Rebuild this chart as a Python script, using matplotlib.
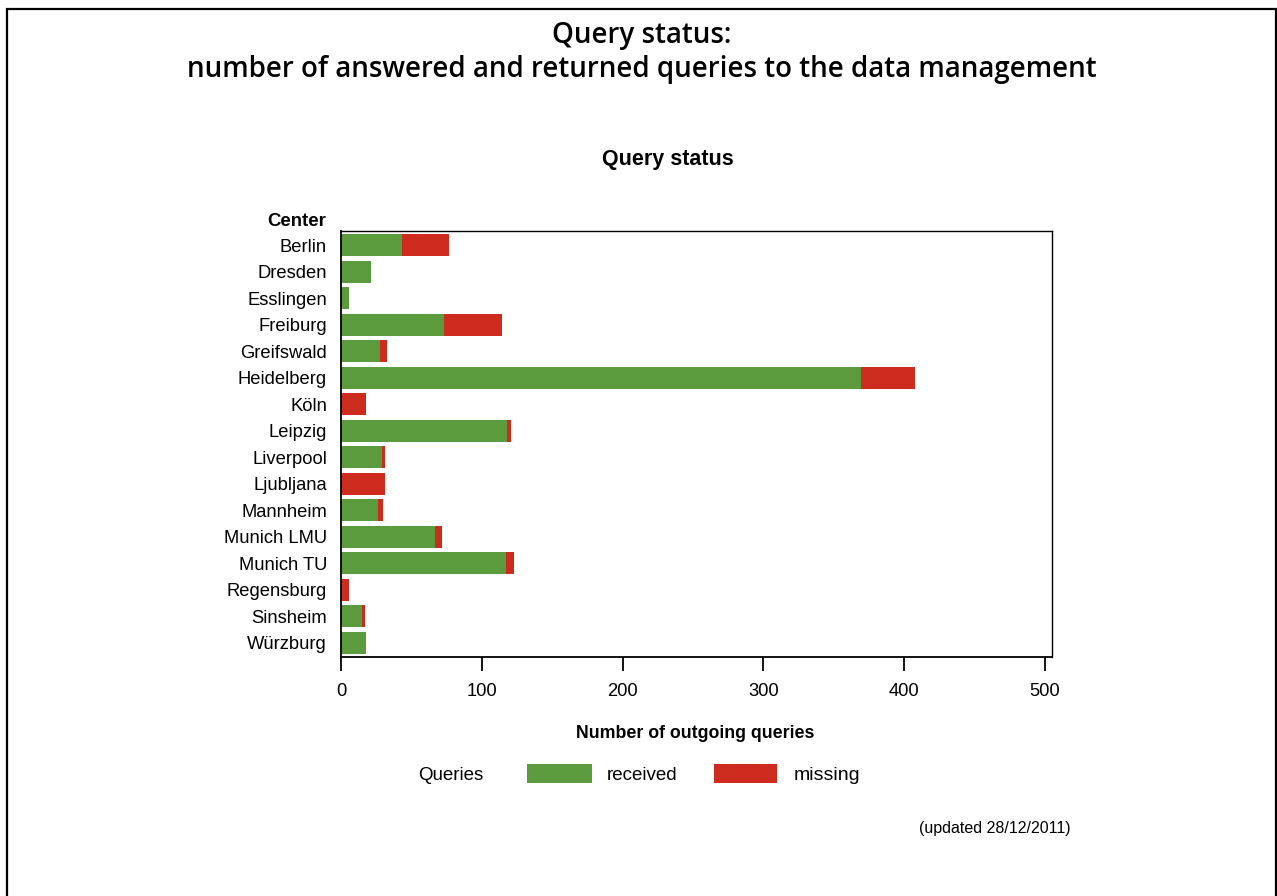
import matplotlib
matplotlib.use("Agg")
import matplotlib.pyplot as plt
from matplotlib.patches import Rectangle
import numpy as np

centers = ["Berlin", "Dresden", "Esslingen", "Freiburg", "Greifswald", "Heidelberg",
           "Köln", "Leipzig", "Liverpool", "Ljubljana", "Mannheim", "Munich LMU",
           "Munich TU", "Regensburg", "Sinsheim", "Würzburg"]
received = [43, 21, 6, 73, 28, 369, 0, 118, 29, 0, 26, 67, 117, 0, 15, 18]
missing = [34, 0, 0, 41, 5, 39, 18, 3, 2, 31, 4, 5, 6, 6, 2, 0]
xticks = [0, 100, 200, 300, 400, 500]

GREEN = "#5b9b3d"
RED = "#cd2b1e"

plt.rcParams['font.family'] = ['Liberation Sans', 'DejaVu Sans']

fig = plt.figure(figsize=(12.77, 8.96), dpi=100)
fig.patch.set_facecolor("white")

# outer frame
fig.patches.append(Rectangle((7/1277, -0.05), (1275.5-7)/1277, 1.05 - 9/896,
                             transform=fig.transFigure, fill=False,
                             edgecolor="black", lw=1.6))

ax = fig.add_axes([341/1277, 1-657/896, (1052-341)/1277, (657-231)/896])
y = np.arange(len(centers))
ax.barh(y, received, height=0.83, color=GREEN, edgecolor="none")
ax.barh(y, missing, left=received, height=0.83, color=RED, edgecolor="none")
ax.set_ylim(len(centers) - 0.47, -0.53)
ax.set_xlim(0, 505)
ax.set_yticks(y)
ax.set_yticklabels(centers, fontsize=13.2)
ax.tick_params(axis='y', length=0, pad=10)
ax.set_xticks(xticks)
ax.set_xticklabels([str(t) for t in xticks], fontsize=13.2)
ax.tick_params(axis='x', length=10, width=1.3, pad=9)
for s in ax.spines.values():
    s.set_linewidth(1.0)
ax.spines['bottom'].set_linewidth(1.3)
ax.spines['left'].set_linewidth(1.3)

fig.text(326/1277, 1-221/896, "Center", ha='right', va='center', fontsize=13.4, fontweight='bold')

tfam = ['Open Sans', 'Liberation Sans', 'DejaVu Sans']
fig.text(642/1277, 1-35/896, "Query status:", ha='center', va='center', fontsize=20,
         family=tfam, fontweight='semibold')
fig.text(642/1277, 1-70/896, "number of answered and returned queries to the data management",
         ha='center', va='center', fontsize=20, family=tfam, fontweight='semibold')

fig.text(668/1277, 1-160/896, "Query status", ha='center', va='center', fontsize=15.5, fontweight='bold')
fig.text(695/1277, 1-733/896, "Number of outgoing queries", ha='center', va='center', fontsize=12.8, fontweight='bold')

# legend row
ly = 1 - 775/896
fig.text(451/1277, ly, "Queries", ha='center', va='center', fontsize=13.5)
fig.patches.append(Rectangle((527/1277, 1-783/896), 65/1277, 19/896, transform=fig.transFigure,
                             facecolor=GREEN, edgecolor='none'))
fig.text(607/1277, ly, "received", ha='left', va='center', fontsize=13.5)
fig.patches.append(Rectangle((714/1277, 1-783/896), 63/1277, 19/896, transform=fig.transFigure,
                             facecolor=RED, edgecolor='none'))
fig.text(794/1277, ly, "missing", ha='left', va='center', fontsize=14)

fig.text(1071/1277, 1-828/896, "(updated 28/12/2011)", ha='right', va='center', fontsize=11.5)

fig.savefig("out.png", dpi=100, facecolor="white")
